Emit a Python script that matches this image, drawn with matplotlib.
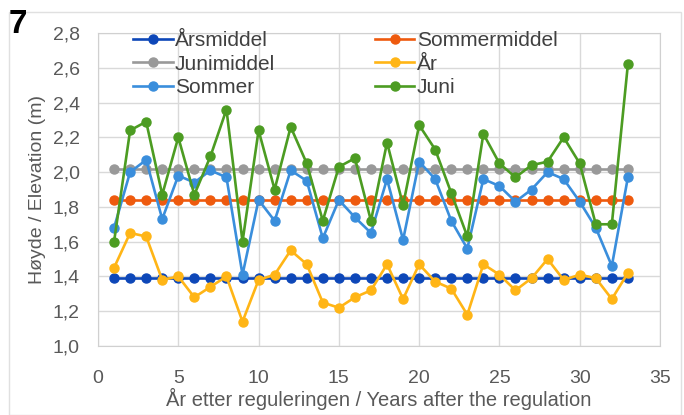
import matplotlib.pyplot as plt
from matplotlib.ticker import FuncFormatter

plt.rcParams['font.family'] = ['Liberation Sans', 'DejaVu Sans']

years = list(range(1, 34))

aarsmiddel = [1.39] * 33
sommermiddel = [1.84] * 33
junimiddel = [2.02] * 33

aar = [1.45, 1.65, 1.63, 1.38, 1.40, 1.28, 1.34, 1.40, 1.14, 1.38,
       1.41, 1.55, 1.47, 1.25, 1.22, 1.28, 1.32, 1.47, 1.27, 1.47,
       1.37, 1.33, 1.18, 1.47, 1.41, 1.32, 1.39, 1.50, 1.38, 1.41,
       1.39, 1.27, 1.42]

sommer = [1.68, 2.00, 2.07, 1.73, 1.98, 1.94, 2.01, 1.97, 1.41, 1.84,
          1.72, 2.01, 1.95, 1.62, 1.84, 1.74, 1.65, 1.96, 1.61, 2.06,
          1.96, 1.72, 1.56, 1.96, 1.92, 1.83, 1.90, 2.00, 1.96, 1.83,
          1.68, 1.46, 1.97]

juni = [1.60, 2.24, 2.29, 1.87, 2.20, 1.87, 2.09, 2.36, 1.60, 2.24,
        1.90, 2.26, 2.05, 1.72, 2.03, 2.08, 1.72, 2.17, 1.81, 2.27,
        2.13, 1.88, 1.63, 2.22, 2.05, 1.97, 2.04, 2.06, 2.20, 2.05,
        1.70, 1.70, 2.62]

series = [
    ("Årsmiddel", aarsmiddel, "#0d47b8"),
    ("Sommermiddel", sommermiddel, "#ee5a0e"),
    ("Junimiddel", junimiddel, "#999999"),
    ("År", aar, "#ffb516"),
    ("Sommer", sommer, "#3a8edc"),
    ("Juni", juni, "#4c9c22"),
]

W, H = 684, 415
fig = plt.figure(figsize=(W / 100, H / 100), dpi=100)
ax = fig.add_axes([98 / W, 1 - 346 / H, (660 - 98) / W, (346 - 33) / H])

handles = {}
for name, vals, col in series:
    h, = ax.plot(years, vals, color=col, lw=1.9, marker='o', ms=6.5,
                 label=name)
    handles[name] = h

ax.set_xlim(0, 35)
ax.set_ylim(1.0, 2.8)
ax.set_xticks(range(0, 36, 5))
ax.set_yticks([1.0 + 0.2 * i for i in range(10)])
ax.yaxis.set_major_formatter(FuncFormatter(lambda v, p: f"{v:.1f}".replace('.', ',')))
ax.grid(True, color='#d9d9d9', lw=1)
ax.set_axisbelow(True)
ax.tick_params(length=0, labelsize=14, colors='#595959')
ax.tick_params(axis='y', pad=13)
ax.tick_params(axis='x', pad=17)
for s in ax.spines.values():
    s.set_color('#d0d0d0')

ax.set_ylabel("Høyde / Elevation (m)", fontsize=14, color='#595959', labelpad=5)
ax.set_xlabel("År etter reguleringen / Years after the regulation",
              fontsize=14.5, color='#595959', labelpad=1)

order = ["Årsmiddel", "Junimiddel", "Sommer", "Sommermiddel", "År", "Juni"]
ax.legend([handles[n] for n in order], order, ncol=2, loc='upper left',
          bbox_to_anchor=(133 / W, 1 - 31 / H), bbox_transform=fig.transFigure,
          frameon=False, fontsize=15, labelcolor='#404040',
          handlelength=1.9, handletextpad=0.1, columnspacing=4.8,
          labelspacing=0.22, borderaxespad=0, borderpad=0)

fig.text(9 / W, 1 - 9 / H, "7", fontsize=24, fontweight='bold', va='top', ha='left')
fig.patches.append(plt.Rectangle((9 / W, 0.0), 1 - 12 / W, 1 - 12 / H,
                                 transform=fig.transFigure, fill=False,
                                 edgecolor='#e0e0e0', lw=1))

fig.savefig("out.png", dpi=100)
